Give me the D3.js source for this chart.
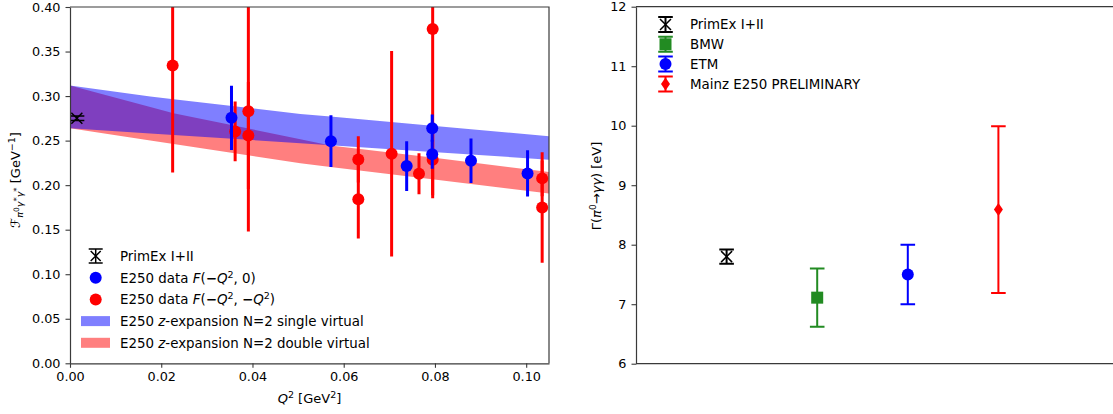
<!DOCTYPE html>
<html>
<head>
<meta charset="utf-8">
<script src="https://cdn.jsdelivr.net/npm/d3@7"></script>
<style>
  html, body { margin: 0; padding: 0; background: #fff; }
  svg { display: block; font-family: "DejaVu Sans", sans-serif; }
  .it { font-style: italic; }
</style>
</head>
<body>
<svg id="fig" width="1113" height="414"></svg>
<script>
// ---- Transition form factor vs Q^2 ----
// z-expansion bands (upper / lower edges) sampled on a common Q^2 grid
const bandQ2  = [0, 0.0176, 0.0227, 0.0505, 0.0571, 0.0794, 0.105];
const svUpper = [0.3120, 0.2995, 0.2965, 0.2800, 0.2770, 0.2667, 0.2550];
const svLower = [0.2640, 0.2581, 0.2564, 0.2470, 0.2448, 0.2372, 0.2286];
const dvUpper = [0.3120, 0.2878, 0.2808, 0.2516, 0.2446, 0.2310, 0.2147];
const dvLower = [0.2640, 0.2502, 0.2462, 0.2245, 0.2204, 0.2065, 0.1905];

// single-virtual lattice points F(-Q^2, 0)
const svQ2  = [0.0354, 0.0572, 0.0738, 0.0794, 0.0794, 0.0879, 0.1003];
const svF   = [0.2756, 0.2494, 0.2214, 0.2640, 0.2348, 0.2274, 0.2132];
const svErr = [0.0360, 0.0290, 0.0280, 0.0153, 0.0163, 0.0250, 0.0260];

// double-virtual lattice points F(-Q^2, -Q^2)
const dvQ2  = [0.0225, 0.0362, 0.0391, 0.0391, 0.0632, 0.0632, 0.0705, 0.0765, 0.0795, 0.0795, 0.1035, 0.1035];
const dvF   = [0.3342, 0.2603, 0.2830, 0.2558, 0.2289, 0.1841, 0.2353, 0.2129, 0.3753, 0.2286, 0.2076, 0.1748];
const dvErr = [0.1200, 0.0336, 0.1350, 0.0600, 0.0260, 0.0440, 0.1154, 0.0230, 0.1900, 0.0400, 0.0200, 0.0620];

// PrimEx real-photon point
const primexQ2  = [0.0015];
const primexF   = [0.2752];
const primexErr = [0.0025];

const xTicksL = [0, 0.02, 0.04, 0.06, 0.08, 0.10];
const yTicksL = [0, 0.05, 0.10, 0.15, 0.20, 0.25, 0.30, 0.35, 0.40];

// ---- Decay width comparison ----
const rateLabels = ["PrimEx I+II", "BMW", "ETM", "Mainz E250 PRELIMINARY"];
const rateValues = [7.80, 7.11, 7.50, 8.59];
const rateErrors = [0.12, 0.49, 0.50, 1.40];
const yTicksR = [6, 7, 8, 9, 10, 11, 12];

// styling
const rateColors = ["#000000", "#228b22", "#0000ff", "#ff0000"];
const rateMarkers = ["x", "square", "circle", "diamond"];
const TICKFONT = 12.8;
const LEGFONT = 13.4;
const LABFONT = 13;
const AXC = "#3a3a3a";

const svg = d3.select("#fig");
svg.append("rect").attr("width", 1113).attr("height", 414).attr("fill", "#fff");

// ---------------- left panel ----------------
const L = { left: 70, right: 549, top: 7, bottom: 363.3 };
const xL = d3.scaleLinear().domain([0, 0.105]).range([L.left, L.right]);
const yL = d3.scaleLinear().domain([0, 0.40]).range([L.bottom, L.top]);

const defs = svg.append("defs");
defs.append("clipPath").attr("id", "clipL").append("rect")
  .attr("x", L.left).attr("y", L.top)
  .attr("width", L.right - L.left).attr("height", L.bottom - L.top);

const gL = svg.append("g").attr("clip-path", "url(#clipL)");

const bandIdx = d3.range(bandQ2.length);
const areaDV = d3.area().x(i => xL(bandQ2[i])).y0(i => yL(dvLower[i])).y1(i => yL(dvUpper[i]));
const areaSV = d3.area().x(i => xL(bandQ2[i])).y0(i => yL(svLower[i])).y1(i => yL(svUpper[i]));
gL.append("path").attr("d", areaDV(bandIdx)).attr("fill", "#ff0000").attr("fill-opacity", 0.5);
gL.append("path").attr("d", areaSV(bandIdx)).attr("fill", "#0000ff").attr("fill-opacity", 0.5);

function errPoints(g, q, f, e, color) {
  const idx = d3.range(q.length);
  g.selectAll(null).data(idx).enter().append("line")
    .attr("x1", i => xL(q[i])).attr("x2", i => xL(q[i]))
    .attr("y1", i => yL(f[i] - e[i])).attr("y2", i => yL(f[i] + e[i]))
    .attr("stroke", color).attr("stroke-width", 3);
  g.selectAll(null).data(idx).enter().append("circle")
    .attr("cx", i => xL(q[i])).attr("cy", i => yL(f[i])).attr("r", 6)
    .attr("fill", color);
}
errPoints(gL, dvQ2, dvF, dvErr, "#ff0000");
errPoints(gL, svQ2, svF, svErr, "#0000ff");

// PrimEx point: caps + x marker
function xMark(g, cx, cy, s, color, w) {
  g.append("path")
    .attr("d", `M${cx - s},${cy - s}L${cx + s},${cy + s}M${cx - s},${cy + s}L${cx + s},${cy - s}`)
    .attr("stroke", color).attr("stroke-width", w).attr("fill", "none");
}
primexQ2.forEach((q, i) => {
  const cx = xL(q), y1 = yL(primexF[i] + primexErr[i]), y2 = yL(primexF[i] - primexErr[i]);
  gL.append("path")
    .attr("d", `M${cx},${y1}L${cx},${y2}M${cx - 7.5},${y1}L${cx + 7.5},${y1}M${cx - 7.5},${y2}L${cx + 7.5},${y2}`)
    .attr("stroke", "#000").attr("stroke-width", 1.5).attr("fill", "none");
  xMark(gL, cx, yL(primexF[i]), 5.5, "#000", 1.5);
});

// axes
function styleAxis(g) {
  g.selectAll(".domain").attr("stroke", AXC).attr("stroke-width", 1.2);
  g.selectAll(".tick line").attr("stroke", AXC).attr("stroke-width", 1.1);
  g.selectAll(".tick text").attr("fill", "#000").attr("font-size", TICKFONT)
    .attr("font-family", "DejaVu Sans, sans-serif");
}
const axXL = svg.append("g").attr("transform", `translate(0,${L.bottom})`)
  .call(d3.axisBottom(xL).tickValues(xTicksL).tickFormat(d3.format(".2f")).tickSize(4.5).tickPadding(4).tickSizeOuter(0));
styleAxis(axXL);
const axYL = svg.append("g").attr("transform", `translate(${L.left},0)`)
  .call(d3.axisLeft(yL).tickValues(yTicksL).tickFormat(d3.format(".2f")).tickSize(4.5).tickPadding(5).tickSizeOuter(0));
styleAxis(axYL);
// top & right spines
svg.append("path")
  .attr("d", `M${L.left},${L.top}L${L.right},${L.top}L${L.right},${L.bottom}`)
  .attr("stroke", AXC).attr("stroke-width", 1.2).attr("fill", "none");

// axis labels
const xlab = svg.append("text").attr("x", (L.left + L.right) / 2).attr("y", 403)
  .attr("text-anchor", "middle").attr("font-size", LABFONT);
xlab.append("tspan").attr("class", "it").text("Q");
xlab.append("tspan").attr("font-size", 9.5).attr("dy", -5).text("2");
xlab.append("tspan").attr("dy", 5).text(" [GeV");
xlab.append("tspan").attr("font-size", 9.5).attr("dy", -5).text("2");
xlab.append("tspan").attr("dy", 5).text("]");

const ylab = svg.append("text").attr("transform", "translate(20,180) rotate(-90)")
  .attr("text-anchor", "middle").attr("font-size", LABFONT);
ylab.append("tspan").attr("class", "it").text("ℱ");
ylab.append("tspan").attr("class", "it").attr("font-size", 9.5).attr("dy", 3).text("π");
ylab.append("tspan").attr("font-size", 7.5).attr("dy", -4).text("0");
ylab.append("tspan").attr("class", "it").attr("font-size", 9.5).attr("dy", 4).text("γ");
ylab.append("tspan").attr("font-size", 8.5).attr("dy", -3).text("*");
ylab.append("tspan").attr("class", "it").attr("font-size", 9.5).attr("dy", 3).text("γ");
ylab.append("tspan").attr("font-size", 8.5).attr("dy", -3).text("*");
ylab.append("tspan").attr("dy", 0).text(" [GeV");
ylab.append("tspan").attr("font-size", 9.5).attr("dy", -5).text("−1");
ylab.append("tspan").attr("dy", 5).text("]");

// legend (left)
const legL = svg.append("g");
const lx = 95.7, tx = 120, ly0 = 256, ldy = 21.7;
function legText(y) {
  return legL.append("text").attr("x", tx).attr("y", y + 4.8).attr("font-size", LEGFONT);
}
// PrimEx
{
  const y = ly0;
  legL.append("path")
    .attr("d", `M${lx},${y - 7}L${lx},${y + 7}M${lx - 7},${y - 7}L${lx + 7},${y - 7}M${lx - 7},${y + 7}L${lx + 7},${y + 7}`)
    .attr("stroke", "#000").attr("stroke-width", 1.5).attr("fill", "none");
  xMark(legL, lx, y, 5, "#000", 1.5);
  legText(y).text("PrimEx I+II");
}
{
  const y = ly0 + ldy;
  legL.append("circle").attr("cx", lx).attr("cy", y).attr("r", 6).attr("fill", "#0000ff");
  const t = legText(y);
  t.append("tspan").text("E250 data ");
  t.append("tspan").attr("class", "it").text("F");
  t.append("tspan").text("(");
  t.append("tspan").attr("font-weight", "bold").text("−");
  t.append("tspan").attr("class", "it").text("Q");
  t.append("tspan").attr("font-size", 9.5).attr("dy", -5).text("2");
  t.append("tspan").attr("dy", 5).text(", 0)");
}
{
  const y = ly0 + 2 * ldy;
  legL.append("circle").attr("cx", lx).attr("cy", y).attr("r", 6).attr("fill", "#ff0000");
  const t = legText(y);
  t.append("tspan").text("E250 data ");
  t.append("tspan").attr("class", "it").text("F");
  t.append("tspan").text("(");
  t.append("tspan").attr("font-weight", "bold").text("−");
  t.append("tspan").attr("class", "it").text("Q");
  t.append("tspan").attr("font-size", 9.5).attr("dy", -5).text("2");
  t.append("tspan").attr("dy", 5).text(", ");
  t.append("tspan").attr("font-weight", "bold").text("−");
  t.append("tspan").attr("class", "it").text("Q");
  t.append("tspan").attr("font-size", 9.5).attr("dy", -5).text("2");
  t.append("tspan").attr("dy", 5).text(")");
}
[["#0000ff", "single virtual"], ["#ff0000", "double virtual"]].forEach((d, k) => {
  const y = ly0 + (3 + k) * ldy;
  legL.append("rect").attr("x", 81).attr("y", y - 5).attr("width", 29).attr("height", 10)
    .attr("fill", d[0]).attr("fill-opacity", 0.5);
  const t = legText(y);
  t.append("tspan").text("E250 ");
  t.append("tspan").attr("class", "it").text("z");
  t.append("tspan").text("-expansion N=2 " + d[1]);
});

// ---------------- right panel ----------------
const R = { left: 636, top: 6.7, bottom: 363.7 };
const xR = d3.scaleLinear().domain([0, 5.4]).range([R.left, R.left + 5.4 * 90.6]);
const yR = d3.scaleLinear().domain([6, 12]).range([R.bottom, R.top]);

const gR = svg.append("g");
function drawMarker(g, type, cx, cy, color) {
  if (type === "x") xMark(g, cx, cy, 5.5, color, 1.5);
  else if (type === "square") g.append("rect").attr("x", cx - 6).attr("y", cy - 6).attr("width", 12).attr("height", 12).attr("fill", color);
  else if (type === "circle") g.append("circle").attr("cx", cx).attr("cy", cy).attr("r", 6).attr("fill", color);
  else if (type === "diamond") g.append("path").attr("d", `M${cx},${cy - 6.5}L${cx + 4.5},${cy}L${cx},${cy + 6.5}L${cx - 4.5},${cy}Z`).attr("fill", color);
}
function capBar(g, cx, y1, y2, color) {
  g.append("path")
    .attr("d", `M${cx},${y1}L${cx},${y2}M${cx - 7.3},${y1}L${cx + 7.3},${y1}M${cx - 7.3},${y2}L${cx + 7.3},${y2}`)
    .attr("stroke", color).attr("stroke-width", 2).attr("fill", "none");
}
rateValues.forEach((v, i) => {
  const cx = xR(i + 1);
  capBar(gR, cx, yR(v + rateErrors[i]), yR(v - rateErrors[i]), rateColors[i]);
  drawMarker(gR, rateMarkers[i], cx, yR(v), rateColors[i]);
});

const axYR = svg.append("g").attr("transform", `translate(${R.left},0)`)
  .call(d3.axisLeft(yR).tickValues(yTicksR).tickFormat(d3.format("d")).tickSize(4.5).tickPadding(5).tickSizeOuter(0));
styleAxis(axYR);
svg.append("path")
  .attr("d", `M${R.left},${R.top}L1113,${R.top}M${R.left},${R.bottom}L1113,${R.bottom}`)
  .attr("stroke", AXC).attr("stroke-width", 1.2).attr("fill", "none");

const ylabR = svg.append("text").attr("transform", "translate(601,186) rotate(-90)")
  .attr("text-anchor", "middle").attr("font-size", LABFONT);
ylabR.append("tspan").text("Γ(");
ylabR.append("tspan").attr("class", "it").text("π");
ylabR.append("tspan").attr("font-size", 9).attr("dy", -5).text("0");
ylabR.append("tspan").attr("dy", 5).text("→");
ylabR.append("tspan").attr("class", "it").text("γγ");
ylabR.append("tspan").text(") [eV]");

// legend (right)
const legR = svg.append("g");
rateLabels.forEach((lab, i) => {
  const cx = 665.5, y = 24.5 + i * 19.8;
  capBar(legR, cx, y - 7.5, y + 7.5, rateColors[i]);
  drawMarker(legR, rateMarkers[i], cx, y, rateColors[i]);
  legR.append("text").attr("x", 690).attr("y", y + 4.8).attr("font-size", LEGFONT).text(lab);
});
</script>
</body>
</html>
